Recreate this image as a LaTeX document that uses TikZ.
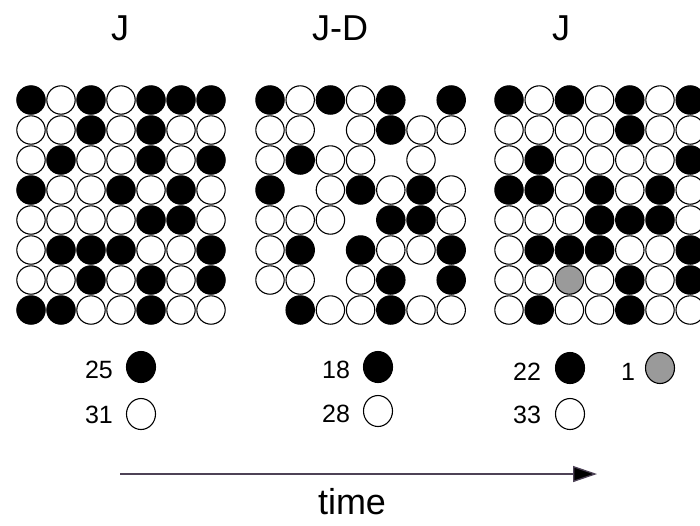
\documentclass[tikz,border=0pt]{standalone}
\usepackage{fontspec}
\setmainfont{Liberation Sans}
\usepackage{tikz}
\usetikzlibrary{arrows.meta,positioning,shapes.geometric}

\definecolor{dotgray}{HTML}{9A9A9A}
\definecolor{timeline}{HTML}{4D4256}

\begin{document}
\begin{tikzpicture}[
  x=1pt, y=-1pt,
  dot/.style={circle, inner sep=0pt, minimum size=28.4pt, line width=1.1pt},
  dot0/.style={dot, draw=black, fill=white},
  dot1/.style={dot, draw=black, fill=black},
  dot2/.style={dot, draw=black, fill=dotgray},
  dot9/.style={dot},
  keydot/.style={ellipse, inner sep=0pt, minimum width=29pt, minimum height=31pt, line width=1.1pt},
  title/.style={font=\fontsize{36}{40}\selectfont},
  count/.style={font=\fontsize{25}{28}\selectfont, anchor=center},
  arrow/.style={-{Triangle[length=24pt, width=16pt, fill=black]}, line width=1.3pt, draw=timeline}
]
  \useasboundingbox (0,0) rectangle (700,525);
  \clip (0,0) rectangle (700,525);

  % titles
  \node[title] (t1) at (120,28) {J};
  \node[title] (t2) at (340,28) {J-D};
  \node[title] (t3) at (561,28) {J};

  % first grid
  \foreach \row [count=\r] in {{1,0,1,0,1,1,1},{0,0,1,0,1,0,0},{0,1,0,0,1,0,1},{1,0,0,1,0,1,0},
      {0,0,0,0,1,1,0},{0,1,1,1,0,0,1},{0,0,1,0,1,0,1},{1,1,0,0,1,0,0}}
    \foreach \v [count=\c] in \row
      \node[dot\v] (a-\r-\c) at ({31+30*(\c-1)},{100+30*(\r-1)}) {};

  % second grid
  \foreach \row [count=\r] in {{1,0,1,0,1,9,1},{0,0,9,0,1,0,0},{0,1,0,0,9,0,9},{1,9,0,1,0,1,0},
      {0,0,0,9,1,1,0},{0,1,9,1,0,0,1},{0,0,9,0,1,9,1},{9,1,0,0,1,0,0}}
    \foreach \v [count=\c] in \row
      \node[dot\v] (b-\r-\c) at ({270+30.2*(\c-1)},{100+30*(\r-1)}) {};

  % third grid
  \foreach \row [count=\r] in {{1,0,1,0,1,0,1},{0,0,0,0,1,0,0},{0,1,0,0,0,0,1},{1,1,0,1,0,1,0},
      {0,0,0,1,1,1,0},{0,1,1,1,0,0,1},{0,0,2,0,1,0,1},{0,1,0,0,1,0,0}}
    \foreach \v [count=\c] in \row
      \node[dot\v] (c-\r-\c) at ({509+30.2*(\c-1)},{100+30*(\r-1)}) {};

  % counts
  \node[count] (n25) at (99,370) {25};
  \node[keydot, draw=black, fill=black] (k25) at (141,367) {};
  \node[count] (n31) at (99,415) {31};
  \node[keydot, draw=black, fill=white] (k31) at (141,414) {};

  \node[count] (n18) at (336,370) {18};
  \node[keydot, draw=black, fill=black] (k18) at (378,367) {};
  \node[count] (n28) at (336,414) {28};
  \node[keydot, draw=black, fill=white] (k28) at (378,411) {};

  \node[count] (n22) at (527,372) {22};
  \node[keydot, draw=black, fill=black] (k22) at (570,368) {};
  \node[count] (n1) at (628,372) {1};
  \node[keydot, draw=black, fill=dotgray] (k1) at (660,368) {};
  \node[count] (n33) at (527,415) {33};
  \node[keydot, draw=black, fill=white] (k33) at (570,414) {};

  % time axis
  \coordinate (tstart) at (120,474);
  \coordinate (tend) at (597,474);
  \draw[arrow] (tstart) -- (tend);
  \node[title] (time) at (352,502) {time};
\end{tikzpicture}
\end{document}
